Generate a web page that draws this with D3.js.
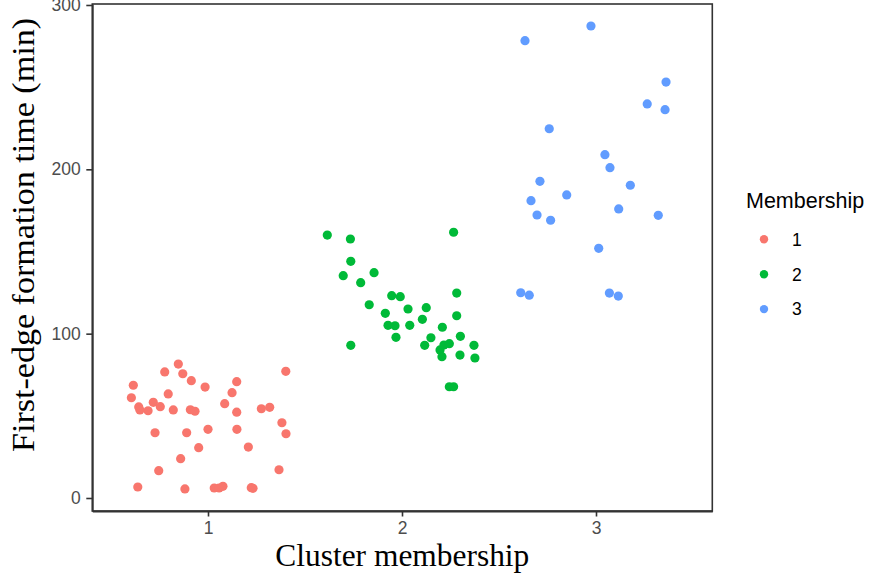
<!DOCTYPE html>
<html>
<head>
<meta charset="utf-8">
<script src="https://cdn.jsdelivr.net/npm/d3@7"></script>
<style>
  html, body { margin: 0; padding: 0; background: #fff; }
  svg { display: block; }
</style>
</head>
<body>
<svg id="chart" width="872" height="582"></svg>
<script>
// Cluster 1 (jittered position, first-edge time in minutes)
const cluster1X = [0.847, 0.777, 0.870, 1.401, 0.615, 0.914, 0.985, 1.148, 1.124, 0.605,
                   0.795, 0.643, 0.649, 0.691, 0.718, 0.754, 0.821, 0.909, 0.933, 1.086,
                   1.148, 1.275, 1.318, 1.381, 1.402, 0.727, 0.890, 1.000, 1.149, 0.952,
                   1.208, 0.859, 0.746, 1.366, 0.638, 0.881, 1.032, 1.057, 1.077, 1.223, 1.232];
const cluster1Y = [81.5, 76.7, 75.6, 77.1, 68.6, 71.4, 67.5, 70.8, 64.1, 61.0,
                   63.3, 55.4, 53.6, 53.1, 58.2, 55.6, 53.6, 53.7, 52.8, 57.4,
                   52.2, 54.3, 55.2, 45.8, 39.1, 39.7, 39.7, 41.8, 41.8, 30.6,
                   31.0, 23.9, 16.6, 17.2, 6.7, 5.5, 6.1, 6.1, 7.1, 6.3, 5.9];

// Cluster 2
const cluster2X = [1.615, 1.734, 2.266, 1.736, 1.697, 1.856, 1.787, 2.282, 1.947, 1.991,
                   1.831, 1.914, 2.031, 2.125, 2.282, 2.105, 1.928, 1.964, 2.040, 2.208,
                   1.969, 2.149, 2.301, 1.736, 2.117, 2.216, 2.244, 2.196, 2.206, 2.299,
                   2.371, 2.376, 2.244, 2.266];
const cluster2Y = [160.0, 157.6, 161.7, 144.0, 135.3, 137.1, 131.0, 124.7, 123.1, 122.5,
                   117.6, 112.4, 115.0, 115.8, 110.9, 108.7, 105.1, 104.8, 105.1, 103.9,
                   97.8, 97.5, 98.4, 92.9, 92.9, 93.1, 93.9, 90.1, 86.0, 87.0,
                   92.9, 85.2, 67.7, 67.7];

// Cluster 3
const cluster3X = [2.974, 2.634, 3.361, 3.264, 3.356, 2.759, 3.046, 3.072, 2.711, 3.177,
                   2.849, 2.665, 3.117, 2.696, 2.766, 3.321, 3.014, 2.612, 2.656, 3.069, 3.115];
const cluster3Y = [287.2, 278.3, 253.1, 239.8, 236.3, 224.7, 208.9, 201.0, 192.7, 190.3,
                   184.4, 180.9, 175.9, 172.2, 169.0, 172.0, 151.9, 124.9, 123.4, 124.7, 122.9];

const membershipLevels = ["1", "2", "3"];
const membershipColors = ["#F8766D", "#00BA38", "#619CFF"];
const xTicks = [1, 2, 3];
const yTicks = [0, 100, 200, 300];

const xLabel = "Cluster membership";
const yLabel = "First-edge formation time (min)";
const legendTitle = "Membership";

// Build one record per point
const clusters = [[cluster1X, cluster1Y], [cluster2X, cluster2Y], [cluster3X, cluster3Y]];
const points = [];
clusters.forEach(([xs, ys], i) => {
  xs.forEach((x, j) => points.push({ x, y: ys[j], m: membershipLevels[i] }));
});

const svg = d3.select("#chart");
const panel = { left: 92.3, right: 712.3, top: 4, bottom: 511 };

const x = d3.scaleLinear().domain([0.4036, 3.5995]).range([panel.left, panel.right]);
const y = d3.scaleLinear().domain([-7.91, 300.6]).range([panel.bottom, panel.top]);
const color = d3.scaleOrdinal().domain(membershipLevels).range(membershipColors);

const tickFont = "'Liberation Sans', Arial, sans-serif";
const serif = "'Liberation Serif', 'Times New Roman', serif";

// Panel border
svg.append("rect")
  .attr("x", panel.left).attr("y", panel.top)
  .attr("width", panel.right - panel.left).attr("height", panel.bottom - panel.top)
  .attr("fill", "none").attr("stroke", "#333333").attr("stroke-width", 1.6);

// Axes
const xAxis = svg.append("g")
  .attr("transform", `translate(0,${panel.bottom})`)
  .call(d3.axisBottom(x).tickValues(xTicks).tickFormat(d3.format("d"))
    .tickSizeInner(5.5).tickSizeOuter(0).tickPadding(5));
const yAxis = svg.append("g")
  .attr("transform", `translate(${panel.left},0)`)
  .call(d3.axisLeft(y).tickValues(yTicks).tickFormat(d3.format("d"))
    .tickSizeInner(6).tickSizeOuter(0).tickPadding(5.5));

[xAxis, yAxis].forEach(g => {
  g.select(".domain").attr("stroke", "#333333").attr("stroke-width", 1.8);
  g.selectAll(".tick line").attr("stroke", "#333333").attr("stroke-width", 1.6);
  g.selectAll(".tick text")
    .attr("fill", "#4D4D4D")
    .style("font-family", tickFont)
    .style("font-size", "17.5px");
});

// Points
svg.append("g")
  .selectAll("circle")
  .data(points)
  .join("circle")
  .attr("cx", d => x(d.x))
  .attr("cy", d => y(d.y))
  .attr("r", 4.6)
  .attr("fill", d => color(d.m));

// Axis titles
svg.append("text")
  .attr("x", (panel.left + panel.right) / 2)
  .attr("y", 566)
  .attr("text-anchor", "middle")
  .style("font-family", serif)
  .style("font-size", "31px")
  .attr("textLength", 254)
  .attr("lengthAdjust", "spacingAndGlyphs")
  .attr("fill", "#000")
  .text(xLabel);

svg.append("text")
  .attr("transform", "translate(34,235) rotate(-90)")
  .attr("text-anchor", "middle")
  .style("font-family", serif)
  .style("font-size", "31px")
  .attr("textLength", 434)
  .attr("lengthAdjust", "spacingAndGlyphs")
  .attr("fill", "#000")
  .text(yLabel);

// Legend
const legend = svg.append("g");
legend.append("text")
  .attr("x", 746).attr("y", 208)
  .style("font-family", tickFont)
  .style("font-size", "21.5px")
  .attr("fill", "#000")
  .text(legendTitle);

const items = legend.selectAll("g.item")
  .data(membershipLevels)
  .join("g")
  .attr("class", "item")
  .attr("transform", (d, i) => `translate(764,${239.3 + i * 34.9})`);
items.append("circle").attr("r", 4.2).attr("fill", d => color(d));
items.append("text")
  .attr("x", 28).attr("y", 0).attr("dy", "0.36em")
  .style("font-family", tickFont)
  .style("font-size", "17.5px")
  .attr("fill", "#000")
  .text(d => d);
</script>
</body>
</html>
